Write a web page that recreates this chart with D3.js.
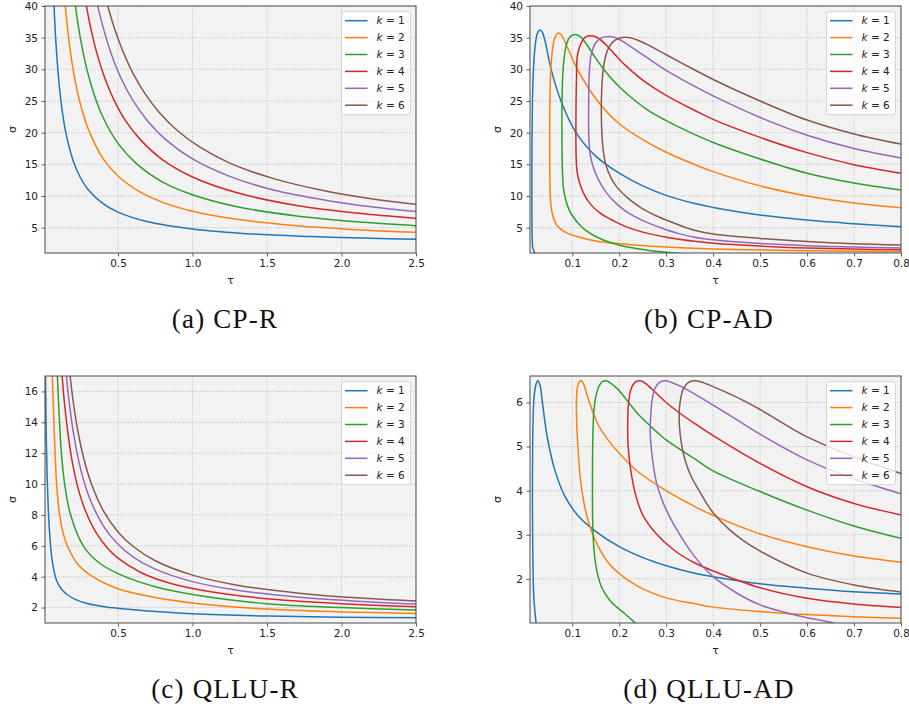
<!DOCTYPE html>
<html>
<head>
<meta charset="utf-8">
<script src="https://cdn.jsdelivr.net/npm/d3@7"></script>
<style>
body { margin: 0; background: #fff; }
svg { display: block; font-family: "DejaVu Sans", sans-serif; }
</style>
</head>
<body>
<svg width="909" height="707"></svg>
<script>
var kValues = [1, 2, 3, 4, 5, 6];
var colors = ["#1f77b4", "#ff7f0e", "#2ca02c", "#d62728", "#9467bd", "#8c564b"];

// (a) CP-R : [tau, sigma] per k
var cpR = [
  [[0.066,42.7],[0.075,37.8],[0.085,33.6],[0.1,28.9],[0.12,24.4],[0.15,20.0],[0.2,15.5],[0.25,12.8],[0.3,11.0],[0.4,8.8],[0.5,7.46],[0.7,5.93],[1.0,4.8],[1.4,4.0],[1.8,3.6],[2.2,3.32],[2.5,3.18]],
  [[0.132,44.1],[0.15,39.1],[0.17,34.7],[0.2,29.8],[0.24,25.2],[0.3,20.6],[0.4,15.9],[0.5,13.15],[0.65,10.6],[0.8,9.0],[1.0,7.6],[1.3,6.32],[1.7,5.31],[2.1,4.69],[2.5,4.27]],
  [[0.2,42.7],[0.22,39.0],[0.25,34.6],[0.29,30.1],[0.34,26.0],[0.4,22.4],[0.5,18.3],[0.62,15.2],[0.8,12.2],[1.0,10.2],[1.3,8.3],[1.7,6.85],[2.1,5.94],[2.5,5.32]],
  [[0.27,42.5],[0.29,39.7],[0.32,36.2],[0.36,32.4],[0.41,28.7],[0.47,25.3],[0.55,21.9],[0.65,18.9],[0.8,15.7],[1.0,13.0],[1.3,10.5],[1.7,8.5],[2.1,7.3],[2.5,6.46]],
  [[0.34,42.7],[0.37,39.4],[0.41,35.8],[0.46,32.1],[0.52,28.6],[0.6,25.1],[0.7,21.8],[0.82,18.9],[1.0,15.85],[1.25,13.1],[1.55,10.9],[1.9,9.3],[2.2,8.3],[2.5,7.54]],
  [[0.41,42.1],[0.44,39.3],[0.48,36.2],[0.53,33.0],[0.6,29.4],[0.68,26.2],[0.78,23.1],[0.9,20.3],[1.05,17.7],[1.25,15.2],[1.55,12.7],[1.9,10.75],[2.2,9.57],[2.5,8.68]]
];

// (b) CP-AD : points in order along each curve
var cpAD = [
  [[0.022,0.8],[0.019,1.2],[0.0158,1.9],[0.0146,3.5],[0.014,10],[0.0143,19],[0.0152,25],[0.0172,29.8],[0.02,33],[0.0235,35],[0.027,35.9],[0.031,36.2],[0.035,36.0],[0.041,34.8],[0.055,30],[0.076,25],[0.108,20],[0.15,16.3],[0.2,13.6],[0.25,11.6],[0.3,10.1],[0.361,8.8],[0.4,8.2],[0.5,7.0],[0.6,6.2],[0.7,5.62],[0.8,5.15]],
  [[0.8,1.22],[0.7,1.28],[0.6,1.36],[0.5,1.48],[0.4,1.65],[0.3,1.95],[0.22,2.35],[0.15,2.9],[0.11,3.6],[0.085,4.3],[0.068,5.3],[0.059,6.8],[0.054,9],[0.0525,12],[0.052,16],[0.052,22],[0.0528,27],[0.0548,30.5],[0.058,33.2],[0.063,35],[0.07,35.75],[0.077,35.4],[0.09,33.4],[0.111,30],[0.154,25],[0.2,21.4],[0.25,18.9],[0.3,16.9],[0.361,14.95],[0.4,13.85],[0.5,11.6],[0.6,10.0],[0.7,8.9],[0.8,8.15]],
  [[0.34,0.85],[0.3,1.12],[0.26,1.45],[0.22,1.9],[0.19,2.45],[0.165,3.1],[0.145,3.8],[0.128,4.6],[0.115,5.5],[0.103,6.6],[0.094,7.7],[0.086,9.4],[0.081,11.4],[0.079,14],[0.078,20],[0.0785,26],[0.08,29.5],[0.083,32],[0.088,34],[0.096,35.2],[0.106,35.5],[0.117,35.15],[0.13,34.0],[0.145,32.3],[0.165,30.2],[0.19,28.0],[0.22,25.9],[0.26,23.6],[0.3,21.9],[0.361,19.7],[0.4,18.45],[0.5,15.84],[0.6,13.6],[0.7,12.05],[0.8,10.95]],
  [[0.8,1.5],[0.7,1.62],[0.6,1.8],[0.5,2.1],[0.4,2.55],[0.361,2.84],[0.3,3.5],[0.25,4.3],[0.218,5.05],[0.19,6.0],[0.161,7.2],[0.14,8.6],[0.125,10.3],[0.115,12.2],[0.11,14],[0.108,17],[0.108,24],[0.109,28.5],[0.111,32.2],[0.118,34],[0.128,35.1],[0.143,35.3],[0.155,34.95],[0.17,34.0],[0.19,32.4],[0.215,30.5],[0.25,28.3],[0.3,25.9],[0.361,23.5],[0.4,22.1],[0.5,19.25],[0.6,16.85],[0.7,14.95],[0.8,13.6]],
  [[0.8,1.78],[0.7,1.95],[0.6,2.15],[0.5,2.5],[0.4,3.1],[0.36,3.5],[0.325,4.1],[0.29,4.95],[0.254,6.0],[0.22,7.3],[0.197,8.6],[0.175,10.3],[0.157,12.4],[0.145,14.5],[0.138,16.6],[0.135,20],[0.135,25],[0.136,29],[0.14,32.2],[0.15,34.2],[0.163,35.0],[0.179,35.2],[0.185,35.15],[0.195,34.9],[0.21,34.3],[0.23,33.3],[0.26,31.8],[0.3,29.85],[0.361,27.3],[0.4,25.8],[0.5,22.4],[0.6,19.6],[0.7,17.5],[0.8,16.0]],
  [[0.8,2.25],[0.7,2.45],[0.6,2.8],[0.5,3.3],[0.4,4.0],[0.36,4.6],[0.33,5.35],[0.3,6.2],[0.275,7.0],[0.245,8.2],[0.218,9.7],[0.195,11.4],[0.182,12.95],[0.172,14.8],[0.167,16.6],[0.163,20],[0.162,25],[0.164,28.5],[0.168,31],[0.175,33],[0.186,34.3],[0.2,34.9],[0.214,35.05],[0.225,34.95],[0.24,34.6],[0.26,33.9],[0.3,32.3],[0.361,29.9],[0.4,28.4],[0.5,25.0],[0.6,22.0],[0.7,19.8],[0.8,18.2]]
];

// (c) QLLU-R
var qlluR = [
  [[0.0115,18.5],[0.013,17],[0.016,14.6],[0.02,12.3],[0.025,10.3],[0.03,8.9],[0.036,7.6],[0.045,6.3],[0.056,5.2],[0.07,4.4],[0.09,3.7],[0.12,3.2],[0.16,2.83],[0.22,2.5],[0.3,2.25],[0.4,2.07],[0.5,1.95],[0.7,1.78],[1.0,1.6],[1.5,1.45],[2.0,1.38],[2.5,1.34]],
  [[0.054,18.5],[0.059,17],[0.07,14],[0.077,12.2],[0.088,10],[0.108,8],[0.13,6.9],[0.16,6],[0.23,4.8],[0.33,4],[0.5,3.22],[0.75,2.65],[1.0,2.3],[1.5,1.9],[2.0,1.72],[2.5,1.62]],
  [[0.086,18.5],[0.093,17],[0.106,14.3],[0.12,12],[0.142,10],[0.182,8],[0.267,6],[0.36,5],[0.5,4.2],[0.75,3.35],[1.0,2.85],[1.5,2.25],[2.0,2.0],[2.5,1.84]],
  [[0.116,18.2],[0.125,17],[0.14,15.3],[0.16,13.6],[0.19,11.6],[0.23,9.8],[0.28,8.3],[0.35,6.9],[0.43,5.84],[0.5,5.2],[0.65,4.29],[0.8,3.72],[1.0,3.23],[1.3,2.78],[1.7,2.42],[2.1,2.2],[2.5,2.05]],
  [[0.138,18.8],[0.15,17.4],[0.17,15.5],[0.2,13.36],[0.24,11.34],[0.3,9.33],[0.4,7.31],[0.5,6.1],[0.6,5.29],[0.75,4.49],[1.0,3.68],[1.3,3.12],[1.7,2.68],[2.1,2.41],[2.5,2.23]],
  [[0.16,18.8],[0.175,17.3],[0.2,15.3],[0.23,13.47],[0.27,11.67],[0.32,10.05],[0.4,8.3],[0.5,6.9],[0.6,5.97],[0.75,5.03],[1.0,4.1],[1.3,3.45],[1.7,2.95],[2.1,2.63],[2.5,2.42]]
];

// (d) QLLU-AD : points in order along each curve
var qlluAD = [
  [[0.0235,0.95],[0.021,1.2],[0.018,1.6],[0.0165,2.2],[0.0155,3],[0.0152,4],[0.0156,5],[0.0165,5.6],[0.0185,6.1],[0.022,6.38],[0.0265,6.49],[0.031,6.4],[0.037,5.95],[0.047,5.2],[0.062,4.5],[0.083,3.9],[0.111,3.45],[0.147,3.1],[0.2,2.73],[0.253,2.47],[0.3,2.3],[0.361,2.13],[0.4,2.05],[0.5,1.89],[0.6,1.79],[0.7,1.71],[0.8,1.66]],
  [[0.8,1.11],[0.7,1.14],[0.6,1.19],[0.5,1.26],[0.4,1.36],[0.36,1.44],[0.3,1.57],[0.24,1.83],[0.2,2.12],[0.175,2.39],[0.147,2.92],[0.129,3.52],[0.118,4.2],[0.112,5.0],[0.109,5.7],[0.109,6.1],[0.111,6.35],[0.115,6.47],[0.119,6.49],[0.124,6.42],[0.132,6.15],[0.14,5.9],[0.155,5.5],[0.175,5.17],[0.2,4.85],[0.24,4.43],[0.3,4.0],[0.361,3.64],[0.4,3.44],[0.5,3.02],[0.6,2.73],[0.7,2.52],[0.8,2.38]],
  [[0.24,0.95],[0.231,1.03],[0.211,1.22],[0.182,1.49],[0.163,1.8],[0.152,2.2],[0.146,2.7],[0.1435,3.3],[0.143,4.0],[0.1432,4.7],[0.144,5.3],[0.146,5.8],[0.15,6.12],[0.157,6.37],[0.164,6.47],[0.172,6.49],[0.18,6.45],[0.199,6.28],[0.22,6.0],[0.239,5.75],[0.27,5.43],[0.3,5.15],[0.361,4.72],[0.4,4.45],[0.5,3.98],[0.6,3.56],[0.7,3.2],[0.8,2.92]],
  [[0.8,1.35],[0.7,1.43],[0.6,1.56],[0.5,1.8],[0.4,2.18],[0.361,2.36],[0.317,2.65],[0.275,3.07],[0.25,3.45],[0.235,3.9],[0.225,4.43],[0.219,5.0],[0.218,5.5],[0.22,6.0],[0.225,6.3],[0.233,6.45],[0.243,6.49],[0.252,6.46],[0.27,6.3],[0.3,6.0],[0.33,5.75],[0.361,5.52],[0.4,5.25],[0.5,4.62],[0.6,4.09],[0.7,3.71],[0.8,3.45]],
  [[0.66,0.99],[0.645,1.03],[0.6,1.12],[0.55,1.25],[0.5,1.41],[0.45,1.68],[0.4,2.05],[0.37,2.38],[0.346,2.72],[0.317,3.22],[0.3,3.57],[0.289,3.85],[0.28,4.15],[0.274,4.48],[0.269,4.88],[0.266,5.3],[0.267,5.7],[0.27,6.05],[0.276,6.32],[0.285,6.45],[0.298,6.49],[0.31,6.46],[0.33,6.37],[0.346,6.28],[0.361,6.19],[0.4,5.94],[0.45,5.61],[0.5,5.28],[0.6,4.7],[0.7,4.27],[0.8,3.93]],
  [[0.8,1.7],[0.7,1.86],[0.6,2.13],[0.5,2.63],[0.45,2.98],[0.4,3.5],[0.37,4.0],[0.352,4.35],[0.34,4.7],[0.332,5.1],[0.328,5.5],[0.328,5.85],[0.331,6.1],[0.337,6.32],[0.347,6.45],[0.36,6.49],[0.373,6.47],[0.4,6.36],[0.45,6.12],[0.5,5.84],[0.6,5.22],[0.7,4.77],[0.8,4.39]]
];

var tauTicksR = [0.5, 1.0, 1.5, 2.0, 2.5];
var tauTicksAD = [0.1, 0.2, 0.3, 0.4, 0.5, 0.6, 0.7, 0.8];
var sigmaTicksCP = [5, 10, 15, 20, 25, 30, 35, 40];
var sigmaTicksQR = [2, 4, 6, 8, 10, 12, 14, 16];
var sigmaTicksQAD = [2, 3, 4, 5, 6];
var captions = ["(a) CP-R", "(b) CP-AD", "(c) QLLU-R", "(d) QLLU-AD"];

var svg = d3.select("svg");
var pw = 371, ph = 247;

var panels = [
  { data: cpR,    xd: [0.01, 2.5], yd: [1, 40],  xt: tauTicksR,  yt: sigmaTicksCP,  left: 45,  top: 6,   cap: captions[0], cx: 225 },
  { data: cpAD,   xd: [0.01, 0.8], yd: [1, 40],  xt: tauTicksAD, yt: sigmaTicksCP,  left: 530, top: 6,   cap: captions[1], cx: 709 },
  { data: qlluR,  xd: [0.01, 2.5], yd: [1, 17],  xt: tauTicksR,  yt: sigmaTicksQR,  left: 45,  top: 376, cap: captions[2], cx: 225 },
  { data: qlluAD, xd: [0.01, 0.8], yd: [1, 6.6], xt: tauTicksAD, yt: sigmaTicksQAD, left: 530, top: 376, cap: captions[3], cx: 709 }
];

panels.forEach(function(p, i) {
  var x = d3.scaleLinear().domain(p.xd).range([0, pw]);
  var y = d3.scaleLinear().domain(p.yd).range([ph, 0]);
  var g = svg.append("g").attr("transform", "translate(" + p.left + "," + p.top + ")");

  g.append("rect").attr("width", pw).attr("height", ph).attr("fill", "#f2f2f2");

  // grid
  g.append("g").selectAll("line").data(p.xt).enter().append("line")
    .attr("x1", function(d) { return x(d); }).attr("x2", function(d) { return x(d); })
    .attr("y1", 0).attr("y2", ph)
    .attr("stroke", "#b0b0b0").attr("stroke-width", 0.8).attr("stroke-dasharray", "1,1.6");
  g.append("g").selectAll("line").data(p.yt).enter().append("line")
    .attr("y1", function(d) { return y(d); }).attr("y2", function(d) { return y(d); })
    .attr("x1", 0).attr("x2", pw)
    .attr("stroke", "#b0b0b0").attr("stroke-width", 0.8).attr("stroke-dasharray", "1,1.6");

  // curves
  var clipId = "clip" + i;
  g.append("clipPath").attr("id", clipId).append("rect").attr("width", pw).attr("height", ph);
  var line = d3.line()
    .x(function(d) { return x(d[0]); })
    .y(function(d) { return y(d[1]); })
    .curve(d3.curveCatmullRom.alpha(0.5));
  g.append("g").attr("clip-path", "url(#" + clipId + ")")
    .selectAll("path").data(p.data).enter().append("path")
    .attr("d", line)
    .attr("fill", "none")
    .attr("stroke", function(d, j) { return colors[j]; })
    .attr("stroke-width", 1.5);

  // axes
  var xAxis = d3.axisBottom(x).tickValues(p.xt).tickFormat(d3.format(".1f")).tickSize(3.5).tickPadding(3.5);
  var yAxis = d3.axisLeft(y).tickValues(p.yt).tickFormat(d3.format("d")).tickSize(3.5).tickPadding(3.5);
  var gx = g.append("g").attr("transform", "translate(0," + ph + ")").call(xAxis);
  var gy = g.append("g").call(yAxis);
  [gx, gy].forEach(function(a) {
    a.select(".domain").remove();
    a.selectAll(".tick line").attr("stroke", "#333").attr("stroke-width", 0.8);
    a.selectAll(".tick text").attr("fill", "#222").style("font-size", "10.5px").style("font-family", "DejaVu Sans");
  });

  g.append("rect").attr("width", pw).attr("height", ph)
    .attr("fill", "none").attr("stroke", "#4a4a4a").attr("stroke-width", 1);

  // axis labels
  g.append("text").attr("x", pw / 2).attr("y", ph + 31).attr("text-anchor", "middle")
    .style("font-size", "11px").attr("fill", "#222").text("τ");
  g.append("text").attr("transform", "translate(-29," + (ph / 2) + ") rotate(-90)")
    .attr("text-anchor", "middle").style("font-size", "11px").attr("fill", "#222").text("σ");

  // legend
  var lg = g.append("g").attr("transform", "translate(" + (pw - 74.5) + ",5.7)");
  lg.append("rect").attr("width", 69).attr("height", 103).attr("rx", 2.5)
    .attr("fill", "#fff").attr("fill-opacity", 0.8).attr("stroke", "#cccccc").attr("stroke-width", 0.8);
  kValues.forEach(function(k, j) {
    var yy = 9 + j * 16.9;
    lg.append("line").attr("x1", 3.5).attr("x2", 26).attr("y1", yy).attr("y2", yy)
      .attr("stroke", colors[j]).attr("stroke-width", 1.5);
    var t = lg.append("text").attr("x", 35).attr("y", yy + 3.8)
      .style("font-size", "10.5px").attr("fill", "#222");
    t.append("tspan").style("font-style", "italic").text("k");
    t.append("tspan").text(" = " + k);
  });

  // caption
  svg.append("text").attr("x", p.cx).attr("y", p.top + 322).attr("text-anchor", "middle")
    .style("font-family", "'Liberation Serif', serif").style("font-size", "27px")
    .style("letter-spacing", "1.2px").attr("fill", "#111")
    .text(p.cap);
});
</script>
</body>
</html>
